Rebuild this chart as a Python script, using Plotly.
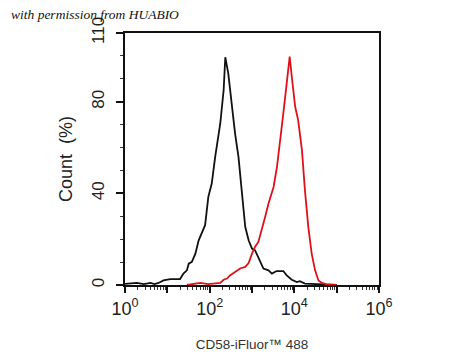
import plotly.graph_objects as go

# Isotype / control histogram (black)
black_x = [1, 1.9, 2.8, 4.0, 5.0, 6.2, 8.1, 11.7, 20, 24, 29, 32, 38, 46, 55, 66, 78, 93,
           112, 135, 162, 178, 214, 234, 275, 331, 398, 479, 575, 692, 832, 1000, 1175,
           1549, 1862, 2455, 2951, 3802, 5495, 6607, 8710, 11482, 13490, 17783, 39811, 100000]
black_y = [0.5, 0.9, 0.4, 0.9, 0.4, 0.9, 2.0, 2.6, 2.6, 5.0, 6.4, 9.3, 10.1, 13.7, 19.5, 23.2,
           26.1, 38.5, 44.3, 55.9, 64.7, 70.5, 85.1, 99.4, 92.4, 77.8, 66.2, 55.9, 41.4, 25.4,
           19.5, 15.9, 15.2, 10.8, 7.2, 6.4, 5.0, 6.1, 6.1, 4.2, 2.3, 1.3, 1.7, 0.6, 0.3, 0]

# CD58-stained histogram (red)
red_x = [29, 38, 60, 93, 178, 214, 257, 302, 398, 525, 692, 832, 1000, 1175, 1413, 1698,
         2042, 2455, 2951, 3236, 3890, 4571, 5495, 6607, 7762, 8710, 10471, 12303, 15136,
         17783, 21380, 25704, 30903, 37154, 44668, 57544, 100000]
red_y = [0, 0.3, 0.9, 0.4, 0.9, 2.3, 2.8, 4.2, 5.7, 7.2, 7.9, 9.6, 13.7, 16.6, 18.8, 23.9,
         29.7, 35.6, 39.9, 42.8, 51.6, 61.8, 74.9, 88.0, 99.7, 90.9, 77.8, 72.0, 58.9, 41.4,
         25.4, 13.7, 6.4, 2.0, 0.9, 0.3, 0]

x_major = [1, 10, 100, 1000, 10000, 100000, 1000000]
x_labels = ["10<sup>0</sup>", "", "10<sup>2</sup>", "", "10<sup>4</sup>", "", "10<sup>6</sup>"]
x_minor = [m * 10 ** d for d in range(6) for m in range(2, 10)]
y_major = [0, 40, 80, 110]
y_minor = [10, 20, 30, 50, 60, 70, 90, 100]

fig = go.Figure()
fig.add_trace(go.Scatter(x=black_x, y=black_y, mode="lines",
                         line=dict(color="#111111", width=1.8), showlegend=False))
fig.add_trace(go.Scatter(x=red_x, y=red_y, mode="lines",
                         line=dict(color="#e0101a", width=1.8), showlegend=False))

fig.update_layout(
    width=442, height=352,
    margin=dict(l=117, r=71, t=25, b=75),
    paper_bgcolor="white", plot_bgcolor="white",
    font=dict(family="Liberation Sans, Arial, sans-serif", color="#222222"),
    xaxis=dict(type="log", range=[0, 6], showgrid=False, zeroline=False, automargin=False,
               showline=True, linecolor="#111111", linewidth=2, mirror=True,
               tickmode="array", tickvals=x_major, ticktext=x_labels,
               ticks="outside", ticklen=6, tickwidth=1.5, tickcolor="#111111",
               tickfont=dict(size=18, color="#222222"),
               minor=dict(tickmode="array", tickvals=x_minor, ticks="outside",
                          ticklen=3, tickwidth=1, tickcolor="#333333", showgrid=False),
               title=dict(text="CD58-iFluor™ 488", font=dict(size=13.5, color="#333333"),
                          standoff=22)),
    yaxis=dict(range=[0, 110], showgrid=False, zeroline=False, automargin=False,
               showline=True, linecolor="#111111", linewidth=2, mirror=True,
               tickmode="array", tickvals=y_major, tickangle=-90,
               ticks="outside", ticklen=7, tickwidth=1.5, tickcolor="#111111",
               ticklabelstandoff=5,
               tickfont=dict(size=17, color="#222222"),
               minor=dict(tickmode="array", tickvals=y_minor, ticks="outside",
                          ticklen=3, tickwidth=1, tickcolor="#333333", showgrid=False),
               title=dict(text="Count  (%)", font=dict(size=18, color="#222222"),
                          standoff=12)),
)

fig.add_annotation(text="<i>with permission from HUABIO</i>", xref="paper", yref="paper",
                   x=-0.455, y=1.072, xanchor="left", yanchor="middle", showarrow=False,
                   font=dict(family="Liberation Serif, serif", size=13.5, color="#111111"))

fig.write_html("out.html")
